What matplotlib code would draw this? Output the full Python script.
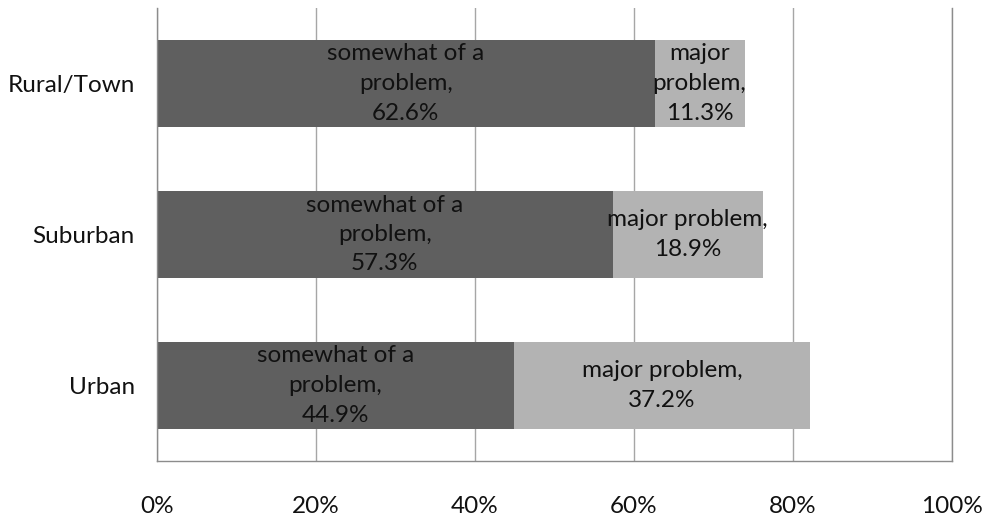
import matplotlib
matplotlib.use("Agg")
import matplotlib.pyplot as plt

plt.rcParams['font.family'] = ['Lato', 'DejaVu Sans']

categories = ['Urban', 'Suburban', 'Rural/Town']
somewhat = [44.9, 57.3, 62.6]
major = [37.2, 18.9, 11.3]
somewhat_labels = ['somewhat of a\nproblem,\n44.9%', 'somewhat of a\nproblem,\n57.3%', 'somewhat of a\nproblem,\n62.6%']
major_labels = ['major problem,\n37.2%', 'major problem,\n18.9%', 'major\nproblem,\n11.3%']
xticks = [0, 20, 40, 60, 80, 100]

dark = '#5f5f5f'
light = '#b3b3b3'
fs = 17.5

fig = plt.figure(figsize=(9.88, 5.18), dpi=100)
ax = fig.add_axes([157 / 988, 57 / 518, 795 / 988, 453 / 518])

ypos = range(len(categories))
b1 = ax.barh(ypos, somewhat, height=0.58, color=dark, zorder=2)
b2 = ax.barh(ypos, major, left=somewhat, height=0.58, color=light, zorder=2)

for rect, lab in zip(b1, somewhat_labels):
    ax.text(rect.get_x() + rect.get_width() / 2, rect.get_y() + rect.get_height() / 2, lab,
            ha='center', va='center', fontsize=fs, color='#111111', linespacing=1.5, zorder=3)
for rect, lab in zip(b2, major_labels):
    ax.text(rect.get_x() + rect.get_width() / 2, rect.get_y() + rect.get_height() / 2, lab,
            ha='center', va='center', fontsize=fs, color='#111111', linespacing=1.5, zorder=3)

ax.set_xlim(0, 100)
ax.set_ylim(-0.5, 2.5)
ax.set_xticks(xticks)
ax.set_xticklabels([f'{v}%' for v in xticks])
ax.set_yticks(list(ypos))
ax.set_yticklabels(categories)
ax.tick_params(axis='both', length=0, labelsize=fs, colors='#111111')
ax.tick_params(axis='x', pad=25)
ax.tick_params(axis='y', pad=16)

ax.grid(axis='x', color='#a6a6a6', linewidth=1, zorder=0)
ax.set_axisbelow(True)
for side in ['left', 'bottom', 'right']:
    ax.spines[side].set_color('#8c8c8c')
    ax.spines[side].set_linewidth(1)
ax.spines['top'].set_visible(False)

fig.savefig('out.png', dpi=100)
